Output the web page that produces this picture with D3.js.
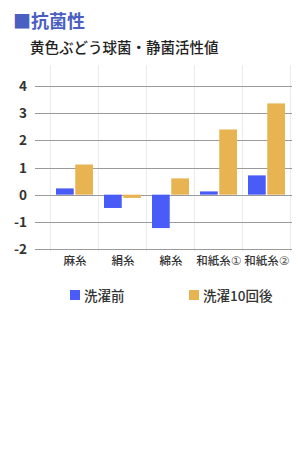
<!DOCTYPE html>
<html>
<head>
<meta charset="utf-8">
<script src="https://cdn.jsdelivr.net/npm/d3@7"></script>
<style>
  body { margin: 0; background: #fff; }
  text { font-family: "Noto Sans CJK JP", "Noto Sans", sans-serif; }
</style>
</head>
<body>
<svg id="chart" width="300" height="460"></svg>
<script>
var categories = ['麻糸', '絹糸', '綿糸', '和紙糸①', '和紙糸②'];
var seriesNames = ['洗濯前', '洗濯10回後'];
var before = [0.23, -0.49, -1.23, 0.12, 0.71];
var after10 = [1.11, -0.12, 0.6, 2.4, 3.36];
var yTicks = [-2, -1, 0, 1, 2, 3, 4];

var colors = ['#4a5cf7', '#e8b452'];
var svg = d3.select('#chart');

svg.append('text').attr('x', 13).attr('y', 28)
  .attr('font-size', 18).attr('font-weight', 'bold').attr('fill', '#4a5fc1')
  .text('■抗菌性');
svg.append('text').attr('x', 30).attr('y', 53)
  .attr('font-size', 14.5).attr('font-weight', 500).attr('fill', '#222')
  .text('黄色ぶどう球菌・静菌活性値');

var x = d3.scaleBand().domain(categories).range([50, 290]);
var y = d3.scaleLinear().domain([-2, 4]).range([249, 86]);
var inner = d3.scaleBand().domain([0, 1]).range([6, 43]).paddingInner(0.08);

var g = svg.append('g');

// vertical grid
g.selectAll('.vgrid').data(categories.concat(['end'])).enter().append('line')
  .attr('class', 'vgrid')
  .attr('x1', function(d, i) { return 50.5 + i * x.bandwidth(); })
  .attr('x2', function(d, i) { return 50.5 + i * x.bandwidth(); })
  .attr('y1', 65).attr('y2', 252)
  .attr('stroke', '#ebebeb').attr('stroke-width', 1);

// horizontal grid
g.selectAll('.hgrid').data(yTicks).enter().append('line')
  .attr('class', 'hgrid')
  .attr('x1', 35).attr('x2', 292)
  .attr('y1', function(d) { return Math.round(y(d)) + 0.5; })
  .attr('y2', function(d) { return Math.round(y(d)) + 0.5; })
  .attr('stroke', '#9a9a9a').attr('stroke-width', 1);

g.selectAll('.ylab').data(yTicks).enter().append('text')
  .attr('x', 27).attr('y', function(d) { return y(d) + 5; })
  .attr('text-anchor', 'end').attr('font-size', 13.5).attr('font-weight', 'bold')
  .attr('fill', '#333')
  .text(function(d) { return d; });

[before, after10].forEach(function(vals, s) {
  g.selectAll('.bar' + s).data(vals).enter().append('rect')
    .attr('class', 'bar' + s)
    .attr('x', function(d, i) { return x(categories[i]) + inner(s); })
    .attr('width', inner.bandwidth())
    .attr('y', function(d) { return y(Math.max(0, d)); })
    .attr('height', function(d) { return Math.abs(y(d) - y(0)); })
    .attr('fill', colors[s]);
});

// category labels; circled digits set narrower like the original
var xlab = g.selectAll('.xlab').data(categories).enter().append('text')
  .attr('x', function(d) { return x(d) + x.bandwidth() / 2 + 1; })
  .attr('y', 265)
  .attr('text-anchor', 'middle').attr('font-size', 11.5).attr('font-weight', 500).attr('fill', '#333');
xlab.append('tspan').text(function(d) { return d.replace(/[①②]/, ''); });
xlab.append('tspan')
  .attr('font-size', 12).attr('font-weight', 'normal').attr('fill', '#555')
  .attr('font-family', 'DejaVu Sans')
  .text(function(d) { var m = d.match(/[①②]/); return m ? m[0] : ''; });

var legendX = [70, 189];
seriesNames.forEach(function(name, s) {
  svg.append('rect').attr('x', legendX[s]).attr('y', 290)
    .attr('width', 10).attr('height', 10).attr('fill', colors[s]);
  svg.append('text').attr('x', legendX[s] + 14).attr('y', 300.5)
    .attr('font-size', 13.5).attr('font-weight', 500).attr('fill', '#333')
    .text(name);
});
</script>
</body>
</html>
